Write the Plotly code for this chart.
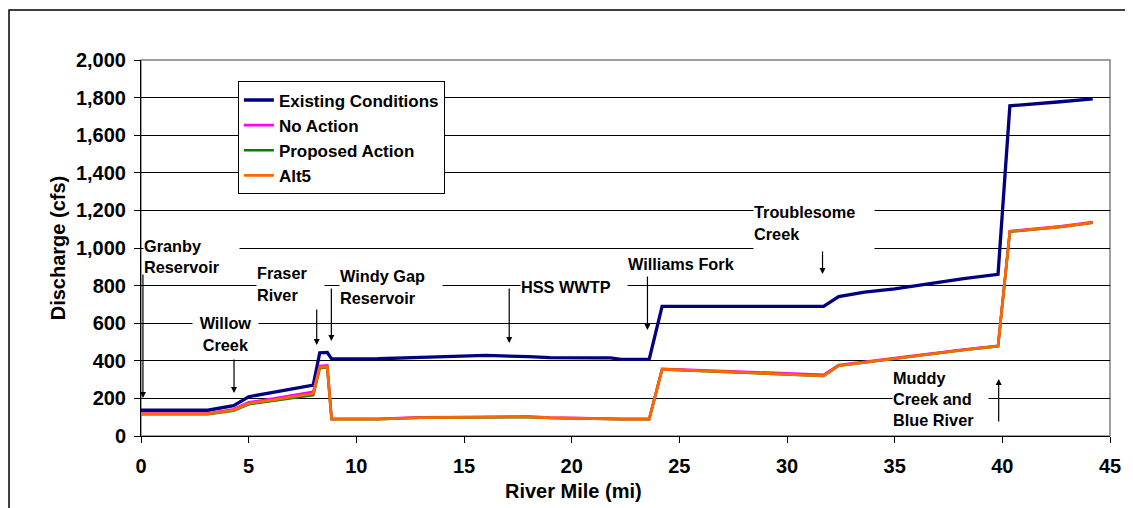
import plotly.graph_objects as go

# ---- data ----
river_mile = [0.0, 3.1, 4.3, 5.0, 6.0, 7.0, 8.0, 8.3, 8.65, 8.85, 11.0, 13.0, 16.0, 18.0, 19.0,
              21.2, 21.8, 22.3, 23.6, 24.2, 28.0, 31.7, 32.4, 33.6, 35.0, 36.7, 38.2, 39.8,
              40.35, 42.7, 44.2]
existing = [137, 137, 161, 209, 230, 250, 271, 443, 445, 410, 411, 418, 429, 422, 417,
            416, 416, 408, 408, 690, 690, 690, 742, 765, 782, 812, 837, 860,
            1756, 1778, 1793]
no_action = [120, 120, 142, 179, 197, 216, 235, 372, 376, 92, 92, 100, 103, 103, 98,
             92, 91, 91, 91, 357, 342, 325, 378, 394, 416, 439, 460, 480,
             1090, 1115, 1138]
proposed = [116, 116, 135, 169, 185, 202, 218, 360, 364, 89, 89, 97, 101, 101, 96,
            89, 89, 89, 89, 354, 337, 319, 374, 391, 413, 436, 457, 477,
            1087, 1112, 1134]
alt5 = [118, 118, 138, 173, 190, 208, 226, 365, 368, 90, 90, 98, 102, 102, 97,
        90, 90, 90, 90, 355, 338, 320, 375, 392, 414, 437, 458, 478,
        1088, 1113, 1135]

series_names = ["Existing Conditions", "No Action", "Proposed Action", "Alt5"]
series_values = [existing, no_action, proposed, alt5]
series_colors = ["#000080", "#FF00FF", "#008000", "#FF6600"]
series_widths = [3.3, 2.6, 2.6, 2.8]

# labels
label_texts = ["Granby<br>Reservoir", "Willow<br>Creek", "Fraser<br>River",
               "Windy Gap<br>Reservoir", "HSS WWTP", "Williams Fork",
               "Troublesome<br>Creek", "Muddy<br>Creek and<br>Blue River"]
label_x = [0.09, 3.92, 5.35, 9.2, 17.6, 22.57, 28.43, 34.88]
label_y = [957, 545, 806, 795, 793, 915, 1133, 197]
label_w = [95, 65, 67, 102, 106, 106, 120, 95]
label_h = [49, 46, 46, 46, 24, 22, 52, 66]
label_align = ["left", "center", "left", "left", "left", "left", "left", "left"]
label_xanchor = ["left", "center", "left", "left", "left", "left", "left", "left"]

# arrows: tip (mile, cfs) and tail offset (px)
arrow_x = [0.09, 4.32, 8.16, 8.84, 17.1, 23.52, 31.65, 39.83]
arrow_y = [202, 229, 484, 505, 495, 564, 862, 303]
arrow_ay = [-125, -35, -37, -54, -56, -55, -24, 44]

x_title = "River Mile (mi)"
y_title = "Discharge (cfs)"

FONT = "Arial, Liberation Sans, sans-serif"

fig = go.Figure()
for name, vals, col, w in zip(series_names, series_values, series_colors, series_widths):
    fig.add_trace(go.Scatter(x=river_mile, y=vals, mode="lines", name=name,
                             line=dict(color=col, width=w)))

annotations = []
for t, x, y, w, h, al, xa in zip(label_texts, label_x, label_y, label_w, label_h,
                                 label_align, label_xanchor):
    annotations.append(dict(text=t, x=x, y=y, xref="x", yref="y", showarrow=False,
                            width=w, height=h, align=al, xanchor=xa, yanchor="middle",
                            valign="middle", bgcolor="white", borderpad=0,
                            font=dict(family=FONT, size=16.3, color="black", weight="bold")))
for x, y, ay in zip(arrow_x, arrow_y, arrow_ay):
    annotations.append(dict(text="", x=x, y=y, xref="x", yref="y", showarrow=True,
                            ax=0, ay=ay, arrowhead=2, arrowsize=1, arrowwidth=1.2,
                            arrowcolor="black", standoff=0))
# x axis title (centred under mile 20 as in the reference)
annotations.append(dict(text=x_title, x=0.446, y=-0.146, xref="paper", yref="paper",
                        showarrow=False, xanchor="center", yanchor="middle",
                        font=dict(family=FONT, size=20, color="black", weight="bold")))

fig.update_layout(
    width=1125, height=500,
    margin=dict(l=133, r=23, t=52, b=72),
    paper_bgcolor="white", plot_bgcolor="white",
    font=dict(family=FONT, color="black"),
    showlegend=True,
    legend=dict(x=0.1, y=0.943, xanchor="left", yanchor="top",
                bgcolor="white", bordercolor="black", borderwidth=1,
                font=dict(family=FONT, size=17, color="black", weight="bold"),
                itemwidth=30, tracegroupgap=0),
    annotations=annotations,
    shapes=[
        dict(type="rect", xref="paper", yref="paper", x0=0, x1=1, y0=0, y1=1,
             line=dict(color="#808080", width=1.5), layer="between"),
        dict(type="rect", xref="paper", yref="paper", x0=-0.1362, x1=1.06, y0=-0.25, y1=1.133,
             line=dict(color="black", width=1.5), layer="below"),
    ],
)
fig.update_xaxes(range=[0, 45], dtick=5, tick0=0, showgrid=False, zeroline=False,
                 showline=True, linecolor="black", linewidth=1,
                 ticks="outside", ticklen=6, tickcolor="black",
                 tickfont=dict(family=FONT, size=20, color="black", weight="bold"),
                 ticklabelstandoff=6)
fig.update_yaxes(range=[0, 2000], dtick=200, tick0=0, tickformat=",",
                 showgrid=True, gridcolor="black", gridwidth=1, zeroline=False,
                 showline=True, linecolor="black", linewidth=1,
                 ticks="outside", ticklen=6, tickcolor="black",
                 tickfont=dict(family=FONT, size=20, color="black", weight="bold"),
                 ticklabelstandoff=4,
                 title=dict(text=y_title, standoff=4,
                            font=dict(family=FONT, size=20, color="black", weight="bold")))

fig.write_html("out.html")
